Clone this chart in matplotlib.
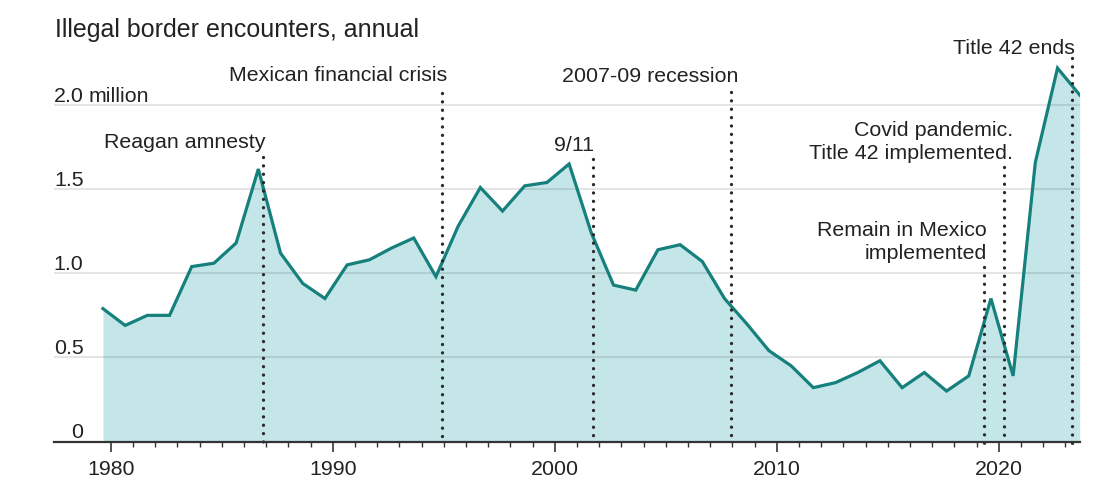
import matplotlib
matplotlib.use("Agg")
from matplotlib import pyplot as plt

# fiscal years and encounters (millions)
years = list(range(1979, 2024))
encounters = [0.79, 0.69, 0.75, 0.75, 1.04, 1.06, 1.18, 1.62, 1.12, 0.94,
              0.85, 1.05, 1.08, 1.15, 1.21, 0.98, 1.28, 1.51, 1.37, 1.52,
              1.54, 1.65, 1.24, 0.93, 0.90, 1.14, 1.17, 1.07, 0.85, 0.70,
              0.54, 0.45, 0.32, 0.35, 0.41, 0.48, 0.32, 0.41, 0.30, 0.39,
              0.85, 0.39, 1.66, 2.22, 2.06]

# events: date (decimal year), label
event_dates = [1986.85, 1994.94, 2001.71, 2007.94, 2019.32, 2020.25, 2023.32]
event_labels = ["Reagan amnesty", "Mexican financial crisis", "9/11",
                "2007-09 recession", "Remain in Mexico\nimplemented",
                "Covid pandemic.\nTitle 42 implemented.", "Title 42 ends"]

y_ticks = [0, 0.5, 1.0, 1.5, 2.0]
y_tick_labels = ["0", "0.5", "1.0", "1.5", "2.0"]

# ---- pixel helpers (figure is 1119 x 501 px) ----
W, H = 1119, 501
X0_PX, PX_PER_YR = 110.7, 22.2       # 1980 at x=110.7 px
Y0_PX, PX_PER_UNIT = 441.5, 168.2    # 0 at y=441.5 px


def xd(px):
    return 1980 + (px - X0_PX) / PX_PER_YR


def yd(px):
    return (Y0_PX - px) / PX_PER_UNIT


plt.rcParams['font.family'] = ['Liberation Sans', 'DejaVu Sans']
TXT = '#222222'
FS = 15.4

fig = plt.figure(figsize=(W / 100, H / 100), dpi=100)
left_px, right_px = 54, 1080
ymax = 2.35
ax = fig.add_axes([left_px / W, (H - Y0_PX) / H,
                   (right_px - left_px) / W, ymax * PX_PER_UNIT / H])
ax.set_xlim(xd(left_px), xd(right_px))
ax.set_ylim(0, ymax)

xs = [y + 0.65 for y in years]
ax.fill_between(xs, encounters, 0, color='#c5e6e9', lw=0, zorder=1)
ax.plot(xs, encounters, color='#16807d', lw=2.3, zorder=4,
        solid_joinstyle='miter')

# gridlines
for v in y_ticks[1:]:
    ax.axhline(v, color='#000000', alpha=0.10, lw=1.5, zorder=3)

# y labels (sit just above their gridline)
for v, lab in zip(y_ticks, y_tick_labels):
    ax.text(xd(83.5), v + 0.02, lab, ha='right', va='baseline', fontsize=FS,
            color=TXT)
ax.text(xd(89), 2.0 + 0.02, "million", ha='left', va='baseline', fontsize=FS,
        color=TXT)

# event lines and labels
line_tops = [157, 93, 159, 92, 267, 167, 58]
label_right = [266, 447, 594, 738, 987, 1013, 1075]
label_base = [148, 81, 151, 82.5, 259, 159, 54]
for d, lab, top, rx, by in zip(event_dates, event_labels, line_tops,
                               label_right, label_base):
    ax.plot([d, d], [yd(top), yd(443)], color='#2a2a2a', lw=2.4,
            ls=(0, (0.01, 2.5)), dash_capstyle='round', clip_on=False,
            zorder=5)
    ax.text(xd(rx), yd(by), lab, ha='right', va='baseline', fontsize=FS,
            color=TXT, linespacing=1.25, clip_on=False)

fig.text(55 / W, 1 - 37 / H, "Illegal border encounters, annual",
         ha='left', va='baseline', fontsize=18, color=TXT)

# axes styling
for s in ['top', 'right', 'left']:
    ax.spines[s].set_visible(False)
ax.spines['bottom'].set_color('#333333')
ax.spines['bottom'].set_linewidth(1.6)
ax.spines['bottom'].set_zorder(6)
ax.set_yticks([])
ax.set_xticks([1980, 1990, 2000, 2010, 2020])
ax.set_xticks(range(1980, 2024), minor=True)
ax.tick_params(axis='x', which='major', length=7, width=1.2, color='#333333',
               labelsize=FS, labelcolor=TXT, pad=6)
ax.tick_params(axis='x', which='minor', length=3.5, width=1.0,
               color='#333333')

fig.savefig("out.png", dpi=100)
